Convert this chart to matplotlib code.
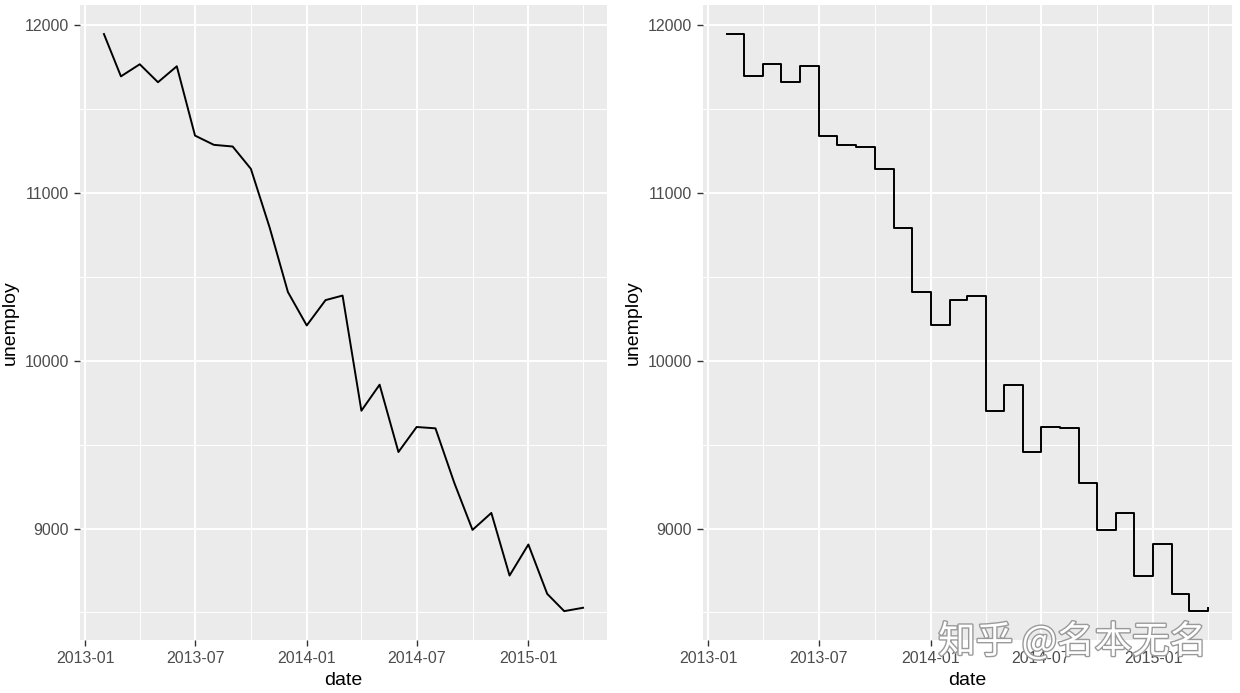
import numpy as np
import pandas as pd
import matplotlib
matplotlib.use("Agg")
import matplotlib.pyplot as plt
import matplotlib.dates as mdates
import matplotlib.patheffects as pe

# unemploy, monthly, 2013-02 .. 2015-04
dates = pd.date_range("2013-02-01", "2015-04-01", freq="MS")
unemploy = [11946, 11694, 11766, 11659, 11754, 11341, 11286, 11276, 11143,
            10792, 10409, 10210, 10361, 10388, 9702, 9857, 9456, 9605, 9597,
            9272, 8992, 9093, 8720, 8905, 8611, 8508, 8528]

x_breaks = pd.to_datetime(["2013-01-01", "2013-07-01", "2014-01-01",
                           "2014-07-01", "2015-01-01"])
x_minor = pd.to_datetime(["2013-04-01", "2013-10-01", "2014-04-01",
                          "2014-10-01", "2015-04-01"])
y_breaks = [9000, 10000, 11000, 12000]
y_minor = [8500, 9500, 10500, 11500]

plt.rcParams['font.family'] = ['Liberation Sans', 'DejaVu Sans']

fig = plt.figure(figsize=(12.4, 6.93), dpi=100)
ax1 = fig.add_axes([0.0645, 0.0765, 0.425, 0.916])
ax2 = fig.add_axes([0.567, 0.0765, 0.4266, 0.916])

xn = mdates.date2num(dates)
span = xn[-1] - xn[0]
ylo, yhi = min(unemploy), max(unemploy)
yspan = yhi - ylo


def style(ax):
    ax.set_facecolor("#EBEBEB")
    for s in ax.spines.values():
        s.set_visible(False)
    ax.set_xlim(xn[0] - 0.05 * span, xn[-1] + 0.05 * span)
    ax.set_ylim(ylo - 0.05 * yspan, yhi + 0.05 * yspan)
    ax.set_xticks(mdates.date2num(x_breaks))
    ax.set_xticklabels([d.strftime("%Y-%m") for d in x_breaks])
    ax.set_xticks(mdates.date2num(x_minor), minor=True)
    ax.set_yticks(y_breaks)
    ax.set_yticklabels([str(v) for v in y_breaks])
    ax.set_yticks(y_minor, minor=True)
    ax.grid(which="major", color="white", linewidth=1.4)
    ax.grid(which="minor", color="white", linewidth=0.7)
    ax.set_axisbelow(True)
    ax.tick_params(which="major", length=4, width=1, color="#333333",
                   labelcolor="#4D4D4D", labelsize=11.5, pad=4)
    ax.tick_params(which="minor", length=0)
    ax.set_xlabel("date", fontsize=14, labelpad=4)
    ax.set_ylabel("unemploy", fontsize=14, labelpad=4)


style(ax1)
ax1.plot(dates, unemploy, color="black", linewidth=1.4)

style(ax2)
ax2.step(dates, unemploy, where="post", color="black", linewidth=1.4)

# watermark
fig.text(0.865, 0.073, "知乎 @名本无名", fontsize=27, color="white",
         ha="center", va="center",
         family=["Noto Sans CJK SC", "DejaVu Sans"],
         path_effects=[pe.withStroke(linewidth=2, foreground="#9A9A9A")])

fig.savefig("out.png", dpi=100)
